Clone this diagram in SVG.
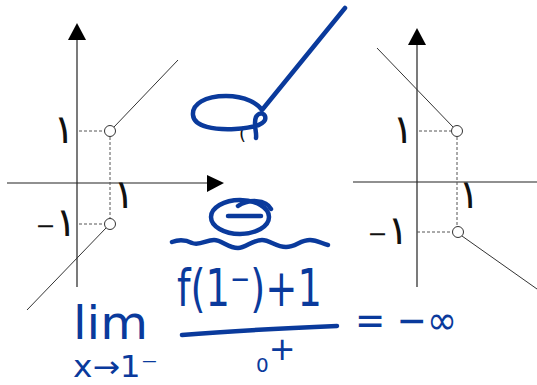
<svg xmlns="http://www.w3.org/2000/svg" width="537" height="385" viewBox="0 0 537 385">
<style>
.ax{stroke:#222;stroke-width:1.2;fill:none}
.fn{stroke:#333;stroke-width:1;fill:none}
.dash{stroke:#555;stroke-width:1;stroke-dasharray:3 2;fill:none}
.pt{stroke:#333;stroke-width:1;fill:#fff}
.lbl{font-family:"DejaVu Sans",sans-serif;font-size:40px;fill:#111}
.mn{font-size:24px}
.ink{stroke:#0a3a9c;stroke-width:4.5;stroke-linecap:round;stroke-linejoin:round;fill:none}
.hw{font-family:"DejaVu Sans","Liberation Sans",sans-serif;fill:#0a3a9c}
</style>
<rect width="537" height="385" fill="#fff"/>
<g id="graph-left">
<line class="ax" x1="77" y1="38" x2="77" y2="287"/>
<polygon points="77,23 68,40 86,40" fill="#000"/>
<line class="ax" x1="7" y1="183" x2="208" y2="183"/>
<polygon points="224,183 207,175 207,192" fill="#000"/>
<line class="dash" x1="79" y1="131" x2="104" y2="131"/>
<line class="dash" x1="110" y1="137" x2="110" y2="218"/>
<line class="dash" x1="79" y1="224" x2="104" y2="224"/>
<line class="fn" x1="114" y1="127" x2="178" y2="60"/>
<line class="fn" x1="106" y1="228" x2="27" y2="310"/>
<circle class="pt" cx="110" cy="131" r="5.5"/>
<circle class="pt" cx="110" cy="224" r="5.5"/>
<text class="lbl" x="64" y="143" text-anchor="middle">١</text>
<text class="lbl" x="124" y="208" text-anchor="middle">١</text>
<text class="lbl" x="56" y="236" text-anchor="middle"><tspan class="mn" dy="-2">−</tspan><tspan dy="2">١</tspan></text>
</g>
<g id="graph-right">
<line class="ax" x1="417" y1="43" x2="417" y2="287"/>
<polygon points="417,28 408,45 426,45" fill="#000"/>
<line class="ax" x1="353" y1="182" x2="537" y2="182"/>
<line class="dash" x1="419" y1="131" x2="451" y2="131"/>
<line class="dash" x1="457" y1="137" x2="457" y2="226"/>
<line class="dash" x1="417" y1="232" x2="452" y2="232"/>
<line class="fn" x1="377" y1="48" x2="453" y2="127"/>
<line class="fn" x1="462" y1="236" x2="537" y2="289"/>
<circle class="pt" cx="457" cy="131" r="5.5"/>
<circle class="pt" cx="458" cy="232" r="5.5"/>
<text class="lbl" x="403" y="143" text-anchor="middle">١</text>
<text class="lbl" x="469" y="208" text-anchor="middle">١</text>
<text class="lbl" x="388" y="244" text-anchor="middle"><tspan class="mn" dy="-2">−</tspan><tspan dy="2">١</tspan></text>
</g>
<g id="scribble">
<text x="239" y="140" font-family="DejaVu Sans,sans-serif" font-size="18" fill="#111">(</text>
<path class="ink" d="M345 8 L262 110 C258 104 246 96 226 96 C205 96 192 104 193 115 C194 127 215 130 235 129 C250 128 262 126 265 120 C267 113 259 111 256 117 C253 124 257 132 256 138"/>
</g>
<g id="circled-minus">
<ellipse class="ink" cx="240" cy="217" rx="29" ry="17"/>
<path class="ink" d="M238 206 C248 199 266 199 271 209"/>
<line class="ink" x1="228" y1="216" x2="261" y2="216"/>
</g>
<g id="wave">
<path class="ink" d="M172 242 C180 239 186 240 192 243 C200 246 206 240 214 240 C222 240 228 248 238 248 C246 248 252 240 262 240 C270 240 276 247 286 247 C296 247 300 240 310 240 C318 240 322 244 328 245"/>
</g>
<g id="limit">
<text class="hw" x="73" y="339" font-size="46" textLength="75" lengthAdjust="spacingAndGlyphs">lim</text>
<text class="hw" x="73" y="377" font-size="30" textLength="85" lengthAdjust="spacingAndGlyphs">x→1⁻</text>
</g>
<g id="fraction">
<text class="hw" x="177" y="306" font-size="52" textLength="145" lengthAdjust="spacingAndGlyphs">f(1⁻)+1</text>
<path class="ink" d="M182 335 C230 331 290 328 337 326"/>
<text class="hw" x="256" y="372" font-size="20">0<tspan font-size="32" dy="-12">+</tspan></text>
</g>
<g id="result">
<text class="hw" x="355" y="334" font-size="40" textLength="102" lengthAdjust="spacingAndGlyphs">= −∞</text>
</g>
</svg>
